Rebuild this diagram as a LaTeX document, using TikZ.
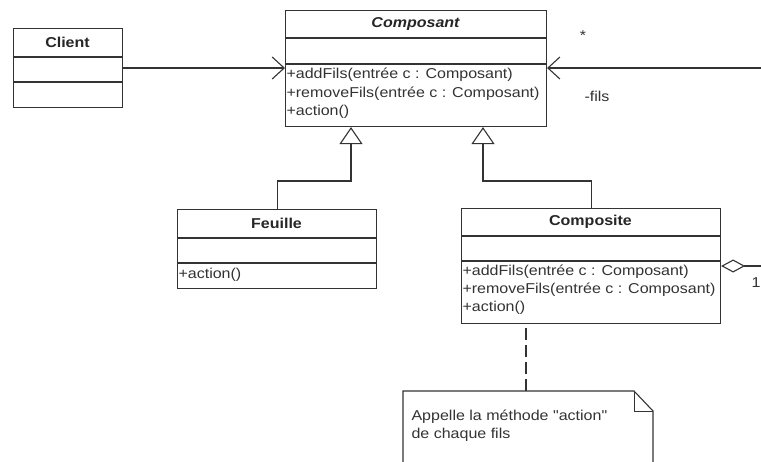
\documentclass[tikz,border=0pt]{standalone}
\usepackage{fontspec}
\setmainfont{Liberation Sans}[FakeStretch=1.12]
\newfontfamily\notefont{Liberation Sans}[FakeStretch=1.12, Ligatures=TeXOff]
\usetikzlibrary{arrows.meta}

\begin{document}
\begin{tikzpicture}[x=1pt,y=-1pt,
  line width=1.1pt,
  ink/.style={draw=black!80},
  classbox/.style={ink, rectangle, inner sep=0pt, anchor=north west},
  title/.style={font=\fontsize{14.3}{17}\selectfont\bfseries, text=black!85},
  member/.style={font=\fontsize{14.3}{17}\selectfont, text=black!80, anchor=west, inner sep=0pt},
  annot/.style={font=\fontsize{14.3}{17}\selectfont, text=black!80, inner sep=0pt},
  openhead/.style={ink, -{Straight Barb[length=12pt, width=22pt, line width=1.1pt]}},
  inherit/.style={ink, -{Triangle[open, length=17pt, width=23pt, line width=1.1pt]}},
  aggreg/.style={ink, {Diamond[open, length=24pt, width=13pt, line width=1.1pt]}-},
  notelink/.style={ink, dash pattern=on 12pt off 5pt}
]
\clip (0,0) rectangle (761,461);
\fill[white] (0,0) rectangle (761,461);

% Client
\node[classbox, minimum width=109pt, minimum height=79pt] (client) at (13,28) {};
\draw[ink] (13,57) -- (122,57) (13,82) -- (122,82);
\node[title] (clientname) at (67.5,42.5) {Client};

% Composant (abstract)
\node[classbox, minimum width=261pt, minimum height=116pt] (composant) at (285,10) {};
\draw[ink] (285,38) -- (546,38) (285,64) -- (546,64);
\node[title, font=\fontsize{14.3}{17}\selectfont\bfseries\itshape] (composantname) at (415.5,24) {Composant};
\node[member] (ca1) at (286,75) {+addFils(entrée c : Composant)};
\node[member] (ca2) at (286,94) {+removeFils(entrée c : Composant)};
\node[member] (ca3) at (286,112) {+action()};

% Feuille
\node[classbox, minimum width=199pt, minimum height=79pt] (feuille) at (177,209) {};
\draw[ink] (177,238) -- (376,238) (177,263) -- (376,263);
\node[title] (feuillename) at (276.5,223.5) {Feuille};
\node[member] (fa1) at (178,275) {+action()};

% Composite
\node[classbox, minimum width=259pt, minimum height=115pt] (composite) at (461,208) {};
\draw[ink] (461,236) -- (720,236) (461,261) -- (720,261);
\node[title] (compositename) at (590.5,222) {Composite};
\node[member] (cb1) at (462,272) {+addFils(entrée c : Composant)};
\node[member] (cb2) at (462,290) {+removeFils(entrée c : Composant)};
\node[member] (cb3) at (462,308) {+action()};

% Client -> Composant
\draw[openhead] (client.east |- 0,68) -- (composant.west |- 0,68);

% fils association coming in from the right edge
\coordinate (filsend) at (770,68);
\draw[openhead] (filsend) -- (filsend -| composant.east);
\node[annot] (mult) at (583,36) {*};
\node[annot] (role) at (597,96) {-fils};

% Generalisation: Feuille
\coordinate (gf) at (351,181);
\draw[inherit] (feuille.north) |- (gf) -- (gf |- composant.south);

% Generalisation: Composite
\coordinate (gc) at (483,181);
\draw[inherit] (composite.north) |- (gc) -- (gc |- composant.south);

% Aggregation on Composite
\coordinate (aggend) at (770,266);
\draw[aggreg] (aggend -| composite.east) -- (aggend);
\node[annot, anchor=west] (one) at (751,283) {1};

% Comment note
\coordinate (notetop) at (526,391);
\draw[ink] (403,470) -- (403,391) -- (634,391) -- (653,411) -- (653,470);
\draw[ink, line width=0.9pt] (634,391) -- (634,411) -- (653,411);
\node[annot, anchor=north west, align=left, font=\notefont\fontsize{14.3}{18}\selectfont] (notetext) at (411,409)
  {Appelle la méthode "action"\\de chaque fils};
\draw[notelink] (notetop) -- (notetop |- composite.south);
\end{tikzpicture}
\end{document}
